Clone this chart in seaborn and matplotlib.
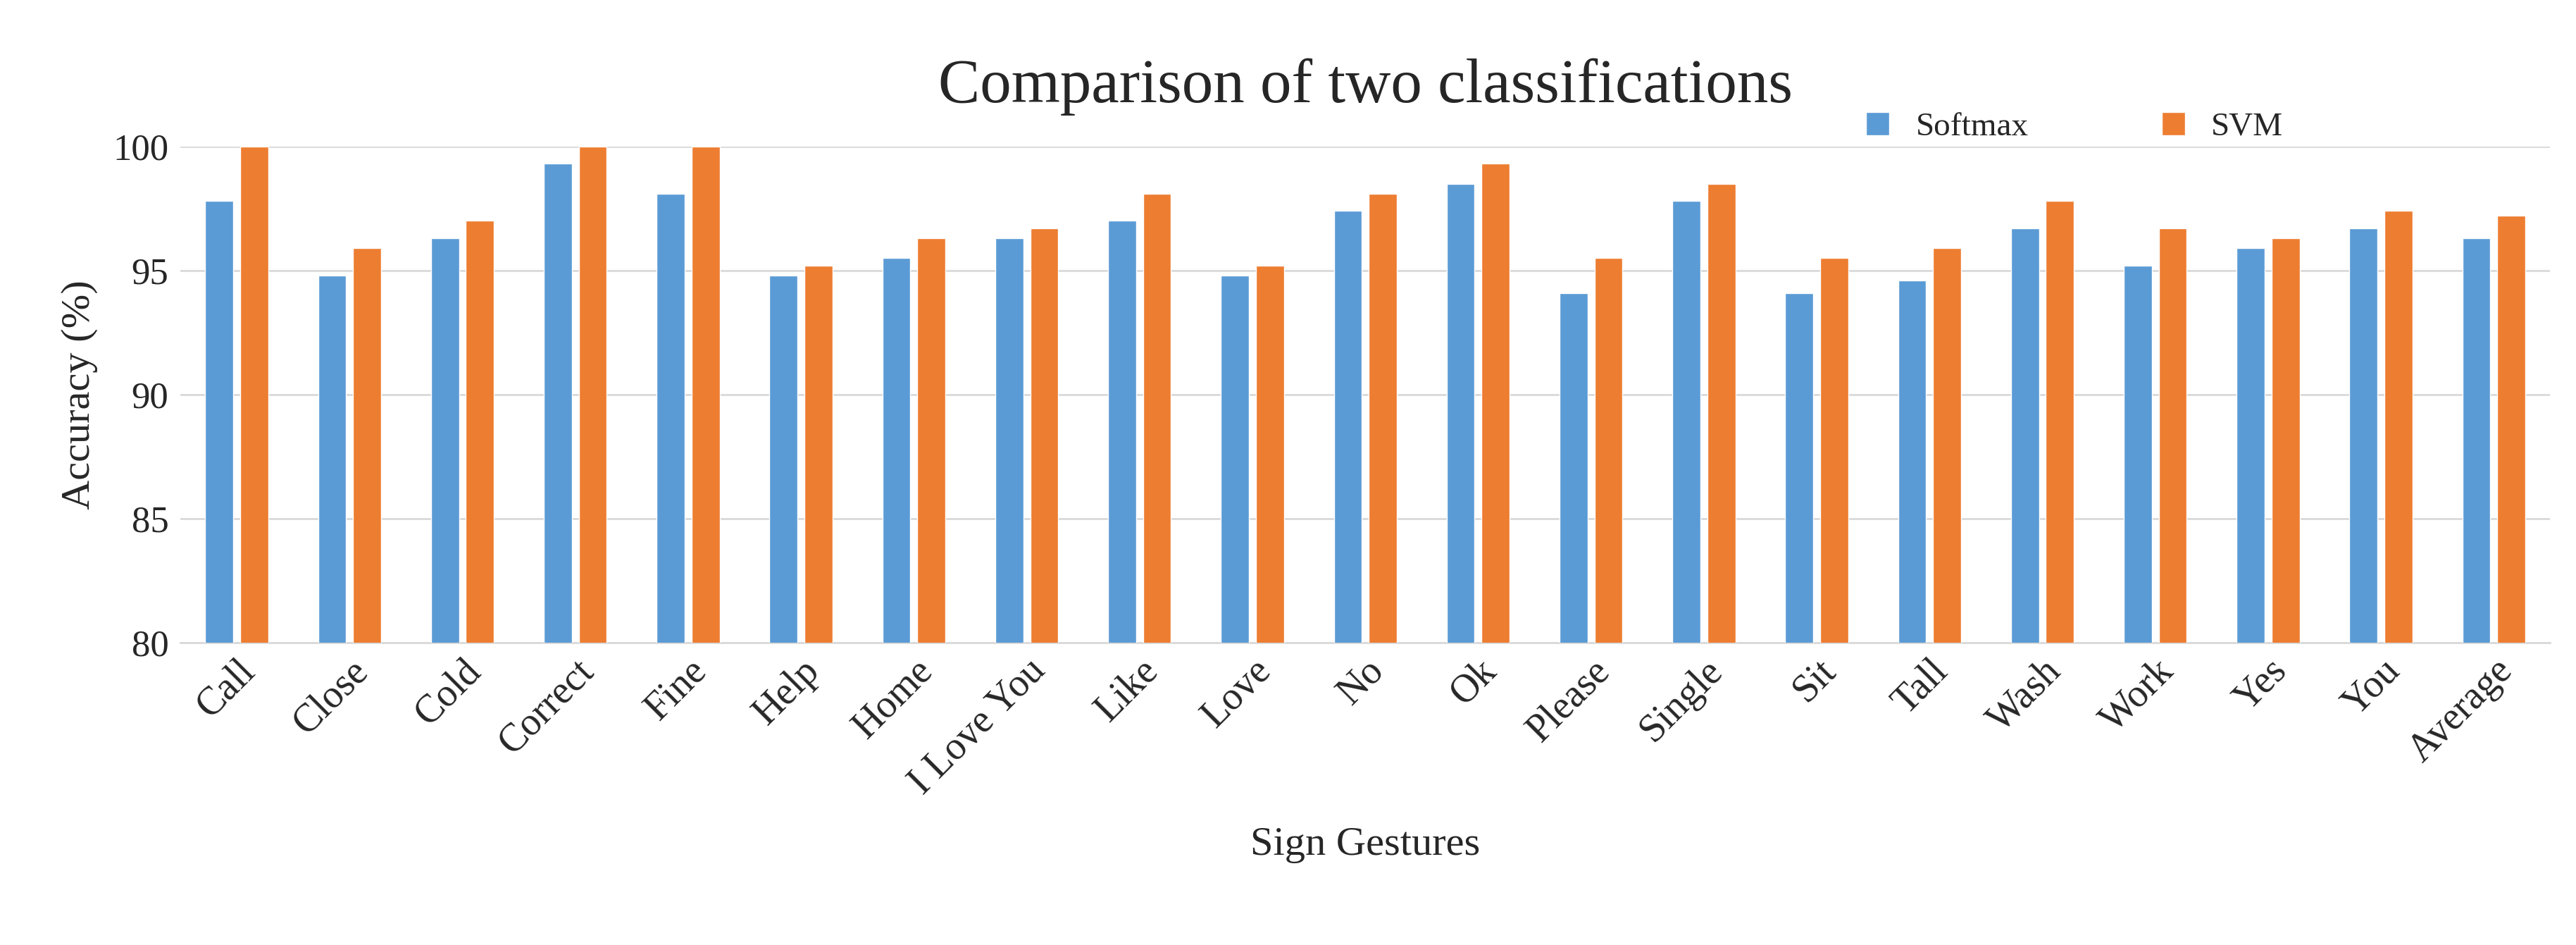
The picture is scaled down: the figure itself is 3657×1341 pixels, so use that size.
import pandas as pd
import matplotlib
matplotlib.use("Agg")
import matplotlib.pyplot as plt
import seaborn as sns

gestures = ["Call", "Close", "Cold", "Correct", "Fine", "Help", "Home", "I Love You",
            "Like", "Love", "No", "Ok", "Please", "Single", "Sit", "Tall", "Wash",
            "Work", "Yes", "You", "Average"]
softmax = [97.8, 94.8, 96.3, 99.3, 98.1, 94.8, 95.5, 96.3, 97.0, 94.8, 97.4,
           98.5, 94.1, 97.8, 94.1, 94.6, 96.7, 95.2, 95.9, 96.7, 96.3]
svm = [100, 95.9, 97.0, 100, 100, 95.2, 96.3, 96.7, 98.1, 95.2, 98.1,
       99.3, 95.5, 98.5, 95.5, 95.9, 97.8, 96.7, 96.3, 97.4, 97.2]

df = pd.DataFrame({"Gesture": gestures * 2,
                   "Accuracy": softmax + svm,
                   "Method": ["Softmax"] * len(gestures) + ["SVM"] * len(gestures)})

sns.set_theme(style="white")
plt.rcParams["font.family"] = ["Liberation Serif", "DejaVu Serif"]

fig, ax = plt.subplots(figsize=(36.57, 13.41), dpi=100)
sns.barplot(data=df, x="Gesture", y="Accuracy", hue="Method",
            palette=["#5B9BD5", "#ED7D31"], saturation=1, width=0.62, gap=0.2,
            ax=ax, zorder=3)

ax.set_ylim(80, 100)
ax.set_yticks([80, 85, 90, 95, 100])
ax.yaxis.grid(True, color="#D9D9D9", linewidth=2, zorder=0)
ax.tick_params(axis="y", labelsize=38, length=0, pad=12)
ax.set_xticks(range(len(gestures)))
ax.set_xticklabels(gestures, rotation=45, ha="right", rotation_mode="anchor", fontsize=40)
ax.tick_params(axis="x", length=0, pad=10)
for s in ["top", "right", "left"]:
    ax.spines[s].set_visible(False)
ax.spines["bottom"].set_color("#D9D9D9")
ax.spines["bottom"].set_linewidth(2)
ax.set_xlim(-0.5, len(gestures) - 0.5)

ax.set_xlabel("Sign Gestures", fontsize=42, labelpad=25)
ax.set_ylabel("Accuracy (%)", fontsize=42, labelpad=15)
ax.set_title("Comparison of two classifications", fontsize=64, pad=45)
ax.legend(loc="upper right", bbox_to_anchor=(0.9, 1.13), ncol=2, frameon=False,
          fontsize=34, handlelength=0.7, handleheight=0.7, columnspacing=4)

plt.subplots_adjust(left=0.07, right=0.99, top=0.845, bottom=0.32)
fig.savefig("out.png")
